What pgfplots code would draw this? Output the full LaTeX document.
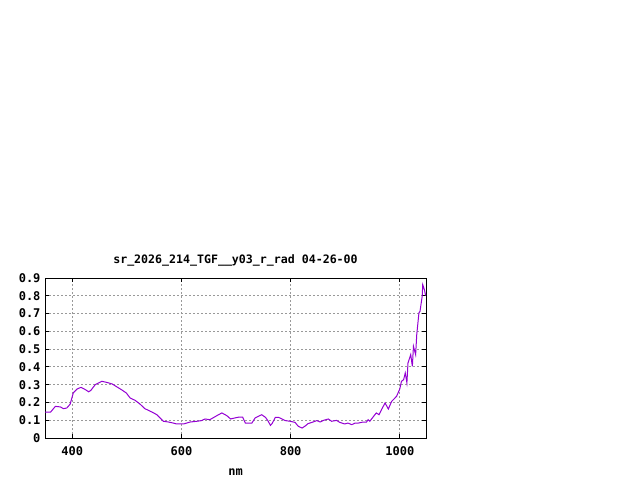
\documentclass[border=0pt]{standalone}
\usepackage{pgfplots}
\pgfplotsset{compat=1.18}
\usepackage{fontspec}
\setmainfont{DejaVu Sans Mono}
\definecolor{gpviolet}{HTML}{9400D3}
\begin{document}
\begin{tikzpicture}[x=1pt,y=1pt]
\path[use as bounding box] (0,0) rectangle (640,480);
\begin{axis}[
  at={(45pt,42pt)}, anchor=south west,
  width=381pt, height=160pt, scale only axis,
  xmin=350, xmax=1048, ymin=0, ymax=0.9,
  xtick={400,600,800,1000},
  ytick={0,0.1,0.2,0.3,0.4,0.5,0.6,0.7,0.8,0.9},
  tick align=inside, major tick length=4pt,
  tick style={black, line width=0.8pt},
  axis line style={black, line width=1pt},
  grid=major,
  major grid style={gray!80, line width=0.8pt, dash pattern=on 2pt off 2pt},
  tick label style={font=\fontsize{12}{13}\selectfont\bfseries},
  xticklabel style={yshift=-5pt},
  yticklabel style={xshift=-1pt},
  /pgf/number format/.cd, fixed, precision=1, 1000 sep={}, assume math mode=true,
]
\addplot[gpviolet, line width=1pt] coordinates {
(350,0.146)(360,0.145)(369,0.178)(378,0.175)(384,0.165)(390,0.169)(396,0.19)
(402,0.255)(409,0.276)(416,0.285)(424,0.272)(430,0.26)(434,0.268)(442,0.30)
(454,0.319)(463,0.313)(473,0.304)(482,0.287)(491,0.27)(499,0.253)(506,0.225)
(515,0.212)(524,0.191)(533,0.165)(546,0.146)(555,0.131)(567,0.094)(576,0.09)
(585,0.084)(591,0.079)(604,0.079)(616,0.09)(628,0.094)(637,0.098)(643,0.107)
(652,0.103)(665,0.126)(674,0.141)(683,0.126)(690,0.107)(698,0.113)(706,0.118)
(712,0.118)(717,0.084)(729,0.084)(735,0.113)(747,0.131)(754,0.116)(759,0.094)
(763,0.071)(766,0.081)(772,0.116)(778,0.116)(784,0.107)(790,0.098)(799,0.094)
(808,0.088)(814,0.066)(821,0.056)(826,0.066)(832,0.081)(841,0.09)(848,0.098)
(854,0.09)(860,0.099)(869,0.107)(875,0.094)(884,0.099)(890,0.088)(899,0.079)
(905,0.084)(912,0.075)(918,0.084)(924,0.084)(933,0.09)(939,0.09)(942,0.103)
(945,0.094)(951,0.118)(957,0.141)(962,0.131)(967,0.163)(973,0.197)(979,0.163)
(985,0.206)(994,0.234)(1000,0.276)(1003,0.319)(1007,0.328)(1010,0.366)(1013,0.31)
(1015,0.422)(1020,0.469)(1023,0.403)(1025,0.516)(1029,0.469)(1031,0.58)
(1035,0.703)(1037,0.713)(1041,0.797)(1042,0.863)(1045,0.835)(1047,0.806)(1048,0.81)
};
\end{axis}
\node[font=\fontsize{11.6}{12}\selectfont\bfseries] at (235.5,220) {sr\_2026\_214\_TGF\_\_y03\_r\_rad 04-26-00};
\node[font=\fontsize{12}{13}\selectfont\bfseries] at (235.5,7.5) {nm};
\end{tikzpicture}
\end{document}
